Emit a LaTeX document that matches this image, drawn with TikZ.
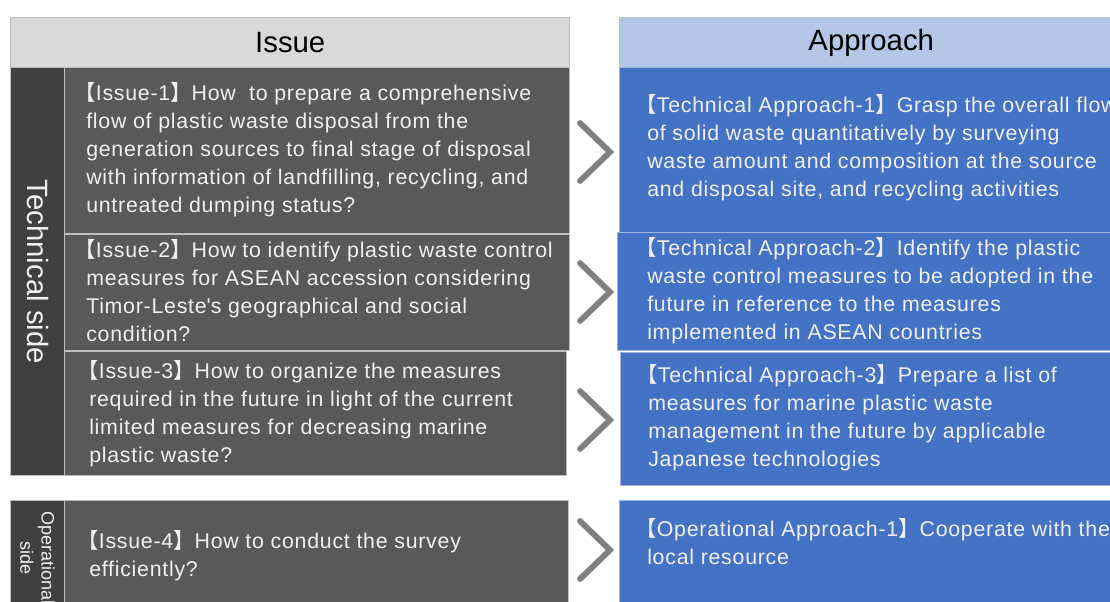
\documentclass[tikz,border=0pt]{standalone}
\usepackage{fontspec}
\usepackage{tikz}
\setmainfont{Liberation Sans}
\newfontfamily\bodyfont{Liberation Sans}[LetterSpace=3.5]
\newfontfamily\cjkfont{Noto Sans CJK SC}
\newlength\px
\setlength\px{0.75pt}
\newcommand\opbr{\kern-0.55em{\cjkfont 【}}
\newcommand\clbr{{\cjkfont 】}}
\definecolor{hdrgray}{HTML}{D9D9D9}
\definecolor{hdrblue}{HTML}{B4C7E7}
\definecolor{issgray}{HTML}{595959}
\definecolor{sidegray}{HTML}{404040}
\definecolor{appblue}{HTML}{4472C4}
\definecolor{lineg}{HTML}{BFBFBF}
\definecolor{lineb}{HTML}{9DB5E0}
\definecolor{chevgray}{HTML}{808080}
\definecolor{txtcol}{HTML}{F0F0F0}
\tikzset{chev/.pic={\draw[chevgray,line width=4.4pt,line cap=round,line join=miter] (-15,-29) -- (15,0) -- (-15,29);}}

\begin{document}
\begin{tikzpicture}[x=0.75pt,y=-0.75pt,
  box/.style={anchor=north west,inner sep=0pt,line width=1.1pt},
  hdr/.style={box,draw=lineg,fill=#1,minimum height=50\px,font=\fontsize{22}{26}\selectfont},
  issbox/.style={box,draw=lineg,fill=issgray},
  sidebox/.style={box,draw=lineg,fill=sidegray,minimum width=54\px},
  appbox/.style={box,draw=lineb,fill=appblue},
  txt/.style={anchor=west,align=left,inner sep=0pt,text=txtcol,font=\bodyfont\fontsize{16}{21}\selectfont},
  sidetxt/.style={rotate=-90,align=center,inner sep=0pt,text=txtcol}]
  \useasboundingbox (0,0) rectangle (1110,601);
  \clip (0,0) rectangle (1110,601);

  \node[hdr=hdrgray,minimum width=559\px] (isshd) at (10,17) {Issue};
  \node[hdr=hdrblue,minimum width=503\px] (apphd) at (619,17) {Approach};

  \node[sidebox,minimum height=408\px] (techside) at (10,67) {};
  \node[sidetxt,font=\fontsize{22}{26}\selectfont] (techlbl) at (techside.center) {Technical side};
  \node[sidebox,minimum height=130\px] (opside) at (10,500) {};
  \node[sidetxt,font=\fontsize{13.5}{16}\selectfont] (oplbl) at (37.5,558) {Operational\\side};

  \node[issbox,minimum width=505\px,minimum height=166\px] (iss1) at (64,67) {};
  \node[issbox,minimum width=505\px,minimum height=116\px] (iss2) at (64,234) {};
  \node[issbox,minimum width=502\px,minimum height=124\px] (iss3) at (64,351) {};
  \node[issbox,minimum width=504\px,minimum height=130\px] (iss4) at (64,500) {};

  \node[appbox,minimum width=503\px,minimum height=165\px] (app1) at (619,67) {};
  \node[appbox,minimum width=505\px,minimum height=118\px] (app2) at (617,232) {};
  \node[appbox,minimum width=502\px,minimum height=133\px] (app3) at (620,352) {};
  \node[appbox,minimum width=503\px,minimum height=130\px] (opapp) at (619,500) {};

  \node[txt] (iss1t) at (86,150) {\opbr Issue-1\clbr How~ to prepare a comprehensive\\
    flow of plastic waste disposal from the\\
    generation sources to final stage of disposal\\
    with information of landfilling, recycling, and\\
    untreated dumping status?};
  \node[txt] (iss2t) at (86,290.5) {\opbr Issue-2\clbr How to identify plastic waste control\\
    measures for ASEAN accession considering\\
    Timor-Leste\textquotesingle s geographical and social\\
    condition?};
  \node[txt] (iss3t) at (89,414) {\opbr Issue-3\clbr How to organize the measures\\
    required in the future in light of the current\\
    limited measures for decreasing marine\\
    plastic waste?};
  \node[txt] (iss4t) at (89,556) {\opbr Issue-4\clbr How to conduct the survey\\
    efficiently?};

  \node[txt] (app1t) at (647,148) {\opbr Technical Approach-1\clbr Grasp the overall flow\\
    of solid waste quantitatively by surveying\\
    waste amount and composition at the source\\
    and disposal site, and recycling activities};
  \node[txt] (app2t) at (647,290.5) {\opbr Technical Approach-2\clbr Identify the plastic\\
    waste control measures to be adopted in the\\
    future in reference to the measures\\
    implemented in ASEAN countries};
  \node[txt] (app3t) at (648,418) {\opbr Technical Approach-3\clbr Prepare a list of\\
    measures for marine plastic waste\\
    management in the future by applicable\\
    Japanese technologies};
  \node[txt] (opappt) at (647,541.5) {\opbr Operational Approach-1\clbr Cooperate with the\\
    local resource};

  \foreach \y in {152,292,420,550}
    \pic at (595,\y) {chev};
\end{tikzpicture}
\end{document}
